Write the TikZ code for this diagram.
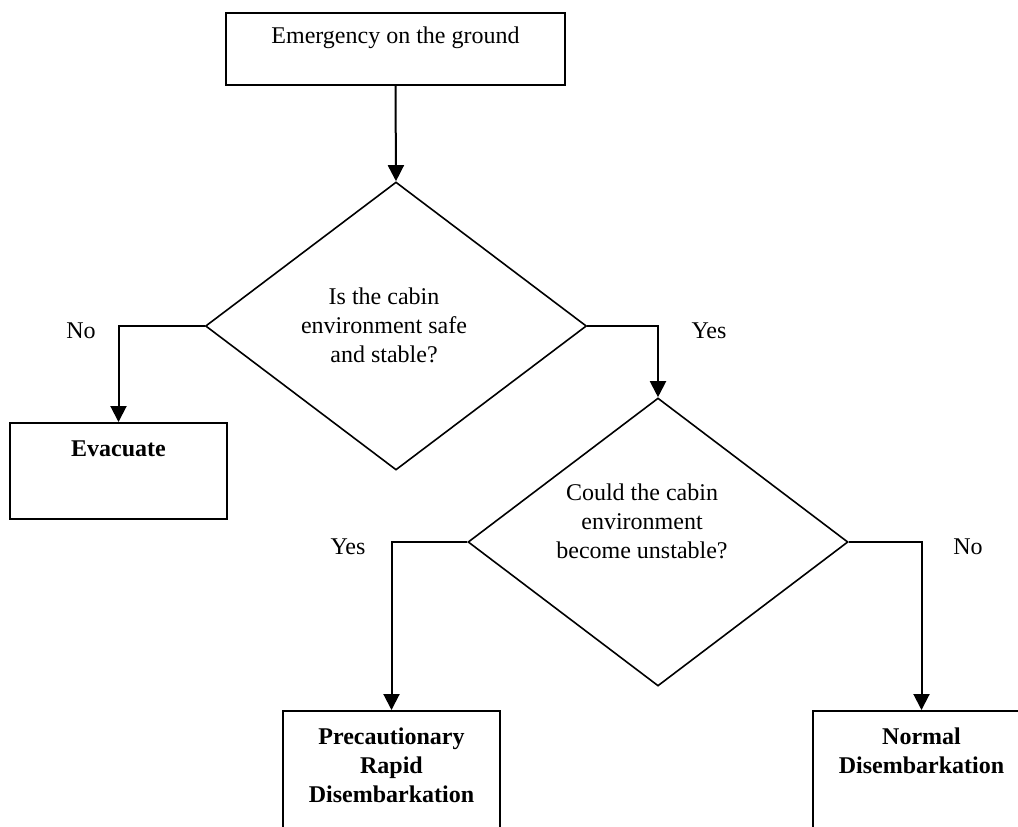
\documentclass[tikz,border=0pt]{standalone}
\usepackage{fontspec}
\setmainfont{Liberation Serif}
\usetikzlibrary{shapes.geometric,arrows.meta}
\begin{document}
\begin{tikzpicture}[x=0.5pt,y=-0.5pt,
  every node/.style={font=\fontsize{12}{14.5}\selectfont},
  box/.style={draw,line width=1pt,rectangle,inner sep=0pt},
  dia/.style={draw,line width=0.8pt,diamond,inner sep=0pt},
  txt/.style={align=center,inner sep=0pt},
  lbl/.style={inner sep=0pt},
  arr/.style={line width=1pt,-{Triangle[length=8pt,width=8pt]}}]
\clip (0,0) rectangle (1018,826);
\fill[white] (0,0) rectangle (1018,826);
% boxes
\node[box,minimum width=169.5pt,minimum height=36pt] (top) at (395.5,49) {};
\node[txt] (toptxt) at (395.5,38) {Emergency on the ground};
\node[box,minimum width=108.5pt,minimum height=48pt] (evac) at (118.5,471) {};
\node[txt] (evactxt) at (118.5,449) {\textbf{Evacuate}};
\node[box,minimum width=108.5pt,minimum height=100pt] (prec) at (391.5,811) {};
\node[txt] (prectxt) at (391.5,765) {\textbf{Precautionary}\\\textbf{Rapid}\\\textbf{Disembarkation}};
\node[box,minimum width=108.5pt,minimum height=100pt] (norm) at (921.5,811) {};
\node[txt] (normtxt) at (921.5,751) {\textbf{Normal}\\\textbf{Disembarkation}};
% diamonds
\node[dia,minimum width=190.5pt,minimum height=144pt] (d1) at (396,326) {};
\node[txt] (d1txt) at (384,325.5) {Is the cabin\\environment safe\\and stable?};
\node[dia,minimum width=190pt,minimum height=144pt] (d2) at (658,542) {};
\node[txt] (d2txt) at (642,521.5) {Could the cabin\\environment\\become unstable?};
% connectors
\draw[arr] (top.south) -- (d1.north);
\draw[arr] (d1.west) -| (evac.north);
\draw[arr] (d1.east) -| (d2.north);
\draw[arr] (d2.west) -| (prec.north);
\draw[arr] (d2.east) -| (norm.north);
% labels
\node[lbl] (no1) at (81,331) {No};
\node[lbl] (yes1) at (709,331) {Yes};
\node[lbl] (yes2) at (348,547) {Yes};
\node[lbl] (no2) at (968,547) {No};
\end{tikzpicture}
\end{document}
